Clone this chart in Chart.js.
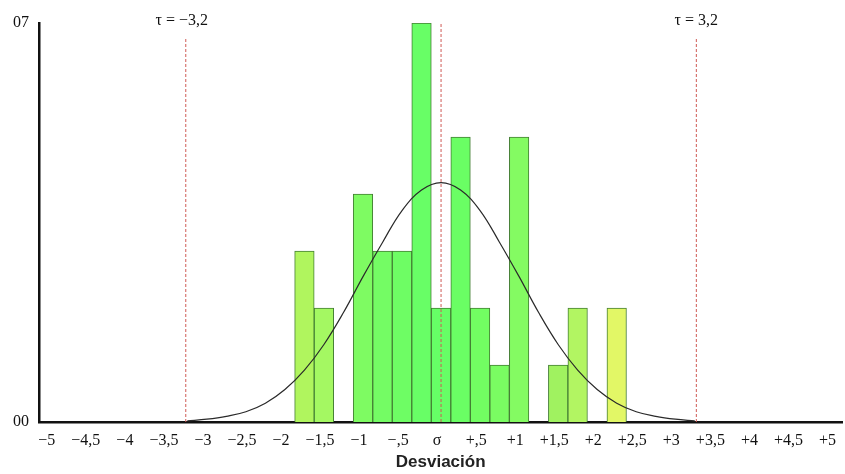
<!DOCTYPE html>
<html>
<head>
<meta charset="utf-8">
<script src="https://cdn.jsdelivr.net/npm/chart.js@4.4.1/dist/chart.umd.min.js"></script>
<style>
  html, body { margin: 0; padding: 0; background: #fff; }
  #wrap { width: 845px; height: 474px; position: relative; }
</style>
</head>
<body>
<div id="wrap"><canvas id="chart"></canvas></div>
<script>
// histogram bins (centre of each bin, in deviation units) and counts
const binCenters = [-1.70, -1.45, -0.95, -0.70, -0.45, -0.20, 0.05, 0.30, 0.55, 0.80, 1.05, 1.55, 1.80, 2.30];
const binCounts  = [3, 2, 4, 3, 3, 7, 2, 5, 2, 1, 5, 1, 2, 2];
const binColors  = ['#b0f55e', '#a4f862', '#7efb62', '#74fc64', '#6efd64', '#68fe66', '#66ff66',
                    '#6afe64', '#72fd62', '#7afc62', '#84fb62', '#a0f260', '#b2f562', '#e2f766'];

// normal curve
const curveX = [-3.20, -2.95, -2.70, -2.45, -2.20, -1.95, -1.70, -1.45, -1.20, -0.95, -0.70, -0.45, -0.20,
                 0.05, 0.30, 0.55, 0.80, 1.05, 1.30, 1.55, 1.80, 2.05, 2.30, 2.55, 2.80, 3.05, 3.30];
const curveY = [0.02, 0.05, 0.10, 0.18, 0.33, 0.57, 0.91, 1.36, 1.92, 2.55, 3.15, 3.71, 4.07,
                4.20, 4.07, 3.71, 3.15, 2.55, 1.92, 1.36, 0.91, 0.57, 0.33, 0.18, 0.10, 0.05, 0.02];

// reference lines
const meanX = 0.05;
const tauLeft = -3.22;
const tauRight = 3.32;
const tauLabels = ['\u03c4 = \u22123,2', '\u03c4 = 3,2'];

const xTickValues = [-5, -4.5, -4, -3.5, -3, -2.5, -2, -1.5, -1, -0.5, 0, 0.5, 1, 1.5, 2, 2.5, 3, 3.5, 4, 4.5, 5];
const xTickLabels = ['\u22125', '\u22124,5', '\u22124', '\u22123,5', '\u22123', '\u22122,5', '\u22122', '\u22121,5',
                     '\u22121', '\u2212,5', '\u03c3', '+,5', '+1', '+1,5', '+2', '+2,5', '+3', '+3,5', '+4', '+4,5', '+5'];
const yTickValues = [0, 7];
const yTickLabels = ['00', '07'];

const serif = "'Liberation Serif', 'DejaVu Serif', serif";

const tauText = {
  id: 'tauText',
  afterDatasetsDraw(chart) {
    const x = chart.scales.x;
    const ctx = chart.ctx;
    ctx.save();
    ctx.fillStyle = '#111';
    ctx.font = '16px ' + serif;
    ctx.textAlign = 'center';
    ctx.textBaseline = 'middle';
    ctx.fillText(tauLabels[0], x.getPixelForValue(tauLeft) - 4, 21);
    ctx.fillText(tauLabels[1], x.getPixelForValue(tauRight), 21);
    ctx.restore();
  }
};

const redLine = (xv, top) => ({
  type: 'line',
  data: [{x: xv, y: 0}, {x: xv, y: top}],
  borderColor: '#cf5a55',
  borderWidth: 1,
  borderDash: [3, 2],
  pointRadius: 0,
  order: 1
});

new Chart(document.getElementById('chart'), {
  type: 'bar',
  data: {
    datasets: [
      {
        type: 'line',
        data: curveX.map((x, i) => ({x: x, y: curveY[i]})),
        borderColor: '#2a2a2a',
        borderWidth: 1.2,
        tension: 0.4,
        pointRadius: 0,
        order: 0
      },
      redLine(meanX, 7),
      redLine(tauLeft, 6.75),
      redLine(tauRight, 6.75),
      {
        type: 'bar',
        data: binCenters.map((x, i) => ({x: x, y: binCounts[i]})),
        backgroundColor: binColors,
        borderColor: '#447f34',
        borderWidth: 1,
        borderSkipped: 'start',
        barPercentage: 1,
        categoryPercentage: 1,
        order: 3
      }
    ]
  },
  options: {
    responsive: true,
    maintainAspectRatio: false,
    animation: false,
    layout: { padding: { top: 23, left: 0, right: 0, bottom: 0 } },
    plugins: { legend: { display: false }, tooltip: { enabled: false } },
    scales: {
      x: {
        type: 'linear',
        min: -5.1,
        max: 5.19,
        offset: false,
        grid: { display: false, drawTicks: false },
        border: { display: true, color: '#111', width: 2.5 },
        afterBuildTicks: s => { s.ticks = xTickValues.map(v => ({value: v})); },
        afterFit: s => { s.height = 52; },
        ticks: {
          autoSkip: false,
          maxRotation: 0,
          padding: 9,
          color: '#111',
          font: { family: serif, size: 16 },
          callback: (v, i) => xTickLabels[i]
        },
        title: {
          display: true,
          text: 'Desviación',
          color: '#222',
          font: { family: "'Liberation Sans', Arial, sans-serif", size: 17, weight: 'bold' },
          padding: { top: 0, bottom: 1 }
        }
      },
      y: {
        min: 0,
        max: 7,
        grid: { display: false, drawTicks: false },
        border: { display: true, color: '#111', width: 2.5 },
        afterBuildTicks: s => { s.ticks = yTickValues.map(v => ({value: v})); },
        afterFit: s => { s.width = 39; },
        ticks: {
          padding: 10,
          color: '#111',
          font: { family: serif, size: 16 },
          callback: (v, i) => yTickLabels[i]
        }
      }
    }
  },
  plugins: [tauText]
});
</script>
</body>
</html>
